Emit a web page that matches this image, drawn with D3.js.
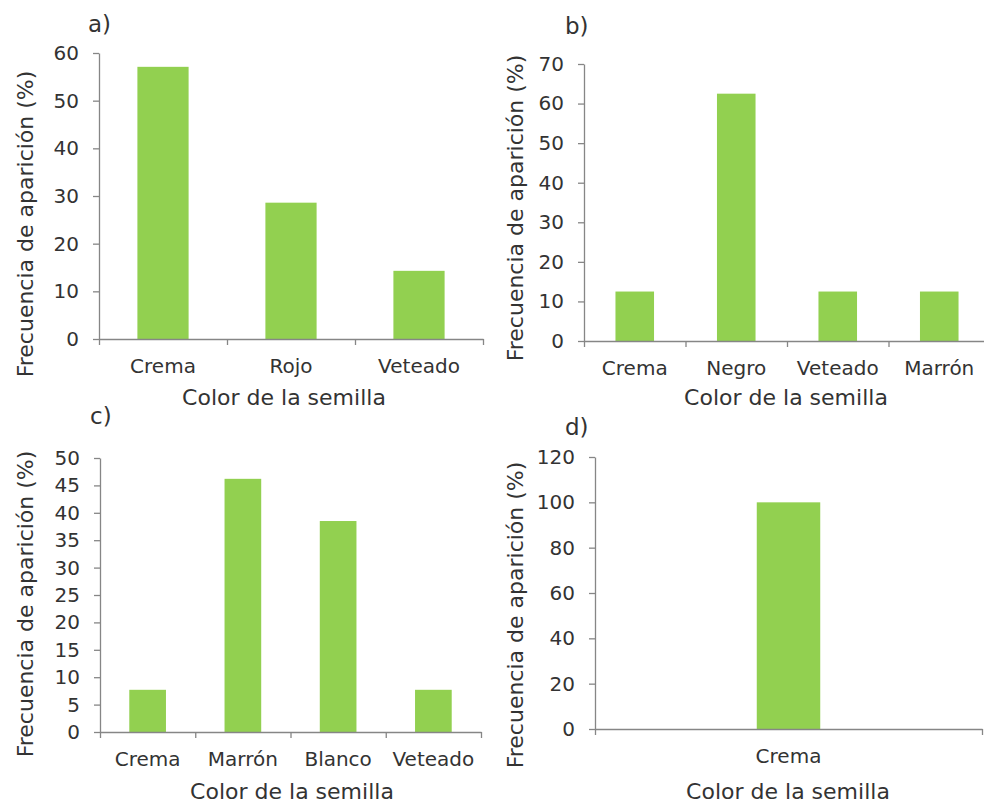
<!DOCTYPE html>
<html>
<head>
<meta charset="utf-8">
<script src="https://cdn.jsdelivr.net/npm/d3@7"></script>
<style>
  html, body { margin: 0; padding: 0; background: #ffffff; }
  svg { display: block; }
  text { font-family: "DejaVu Sans", Verdana, sans-serif; fill: #333333; }
</style>
</head>
<body>
<svg id="chart" width="984" height="803"></svg>
<script>
// ---- data ----
const catsA = ["Crema", "Rojo", "Veteado"];
const valsA = [57.1, 28.6, 14.3];
const ticksA = [0, 10, 20, 30, 40, 50, 60];

const catsB = ["Crema", "Negro", "Veteado", "Marrón"];
const valsB = [12.5, 62.5, 12.5, 12.5];
const ticksB = [0, 10, 20, 30, 40, 50, 60, 70];

const catsC = ["Crema", "Marrón", "Blanco", "Veteado"];
const valsC = [7.7, 46.2, 38.5, 7.7];
const ticksC = [0, 5, 10, 15, 20, 25, 30, 35, 40, 45, 50];

const catsD = ["Crema"];
const valsD = [100];
const ticksD = [0, 20, 40, 60, 80, 100, 120];

const panelLetters = ["a)", "b)", "c)", "d)"];
const xTitle = "Color de la semilla";
const yTitle = "Frecuencia de aparición (%)";

// ---- layout ----
const panels = [
  { cats: catsA, vals: valsA, ticks: ticksA, letter: panelLetters[0],
    left: 99, right: 483, top: 53, bottom: 339, barFrac: 0.40,
    letterX: 88, letterY: 32, xTitleX: 284, xTitleY: 405, yTitleX: 33, yTitleY: 224 },
  { cats: catsB, vals: valsB, ticks: ticksB, letter: panelLetters[1],
    left: 584, right: 990, top: 64, bottom: 341, barFrac: 0.38,
    letterX: 565, letterY: 34, xTitleX: 786, xTitleY: 405, yTitleX: 523, yTitleY: 208 },
  { cats: catsC, vals: valsC, ticks: ticksC, letter: panelLetters[2],
    left: 100, right: 481, top: 458, bottom: 732, barFrac: 0.385,
    letterX: 90, letterY: 424, xTitleX: 292, xTitleY: 799, yTitleX: 33, yTitleY: 604 },
  { cats: catsD, vals: valsD, ticks: ticksD, letter: panelLetters[3],
    left: 595, right: 982, top: 457, bottom: 729, barFrac: 0.164,
    letterX: 565, letterY: 435, xTitleX: 788, xTitleY: 799, yTitleX: 523, yTitleY: 615 }
];

const barColor = "#92d050";
const axisColor = "#868686";
const svg = d3.select("#chart");

panels.forEach(p => {
  const g = svg.append("g");
  const yMax = p.ticks[p.ticks.length - 1];
  const y = d3.scaleLinear().domain([0, yMax]).range([p.bottom, p.top]);
  const x = d3.scaleBand().domain(p.cats).range([p.left, p.right]).padding(0);
  const xIdx = d3.scaleLinear().domain([0, p.cats.length]).range([p.left, p.right]);
  const bw = x.bandwidth() * p.barFrac;

  // bars
  g.selectAll("rect.bar").data(p.cats.map((c, i) => ({ c, v: p.vals[i] })))
    .join("rect")
    .attr("class", "bar")
    .attr("x", d => x(d.c) + (x.bandwidth() - bw) / 2)
    .attr("width", bw)
    .attr("y", d => y(d.v))
    .attr("height", d => y(0) - y(d.v))
    .attr("fill", barColor);

  // y axis
  const yAx = g.append("g")
    .attr("transform", `translate(${p.left},0)`)
    .call(d3.axisLeft(y).tickValues(p.ticks).tickSize(6).tickSizeOuter(0).tickPadding(14));
  yAx.selectAll("path, line").attr("stroke", axisColor).attr("stroke-width", 1.3);
  yAx.selectAll("text").style("font-size", "20px").attr("fill", "#333333")
    .style("font-family", '"DejaVu Sans", Verdana, sans-serif');

  // x axis: boundary ticks
  const xAx = g.append("g")
    .attr("transform", `translate(0,${p.bottom})`)
    .call(d3.axisBottom(xIdx).tickValues(d3.range(p.cats.length + 1)).tickFormat("").tickSize(6).tickSizeOuter(0));
  xAx.selectAll("path, line").attr("stroke", axisColor).attr("stroke-width", 1.3);

  // x category labels
  const xLab = g.append("g")
    .attr("transform", `translate(0,${p.bottom})`)
    .call(d3.axisBottom(x).tickSize(0).tickPadding(20));
  xLab.select(".domain").remove();
  xLab.selectAll("text").style("font-size", "20px").attr("fill", "#333333")
    .style("font-family", '"DejaVu Sans", Verdana, sans-serif');

  // titles
  g.append("text")
    .attr("x", p.xTitleX).attr("y", p.xTitleY)
    .attr("text-anchor", "middle")
    .style("font-size", "22px")
    .text(xTitle);

  g.append("text")
    .attr("transform", `translate(${p.yTitleX},${p.yTitleY}) rotate(-90)`)
    .attr("text-anchor", "middle")
    .style("font-size", "22px")
    .text(yTitle);

  g.append("text")
    .attr("x", p.letterX).attr("y", p.letterY)
    .style("font-size", "23px")
    .text(p.letter);
});
</script>
</body>
</html>
